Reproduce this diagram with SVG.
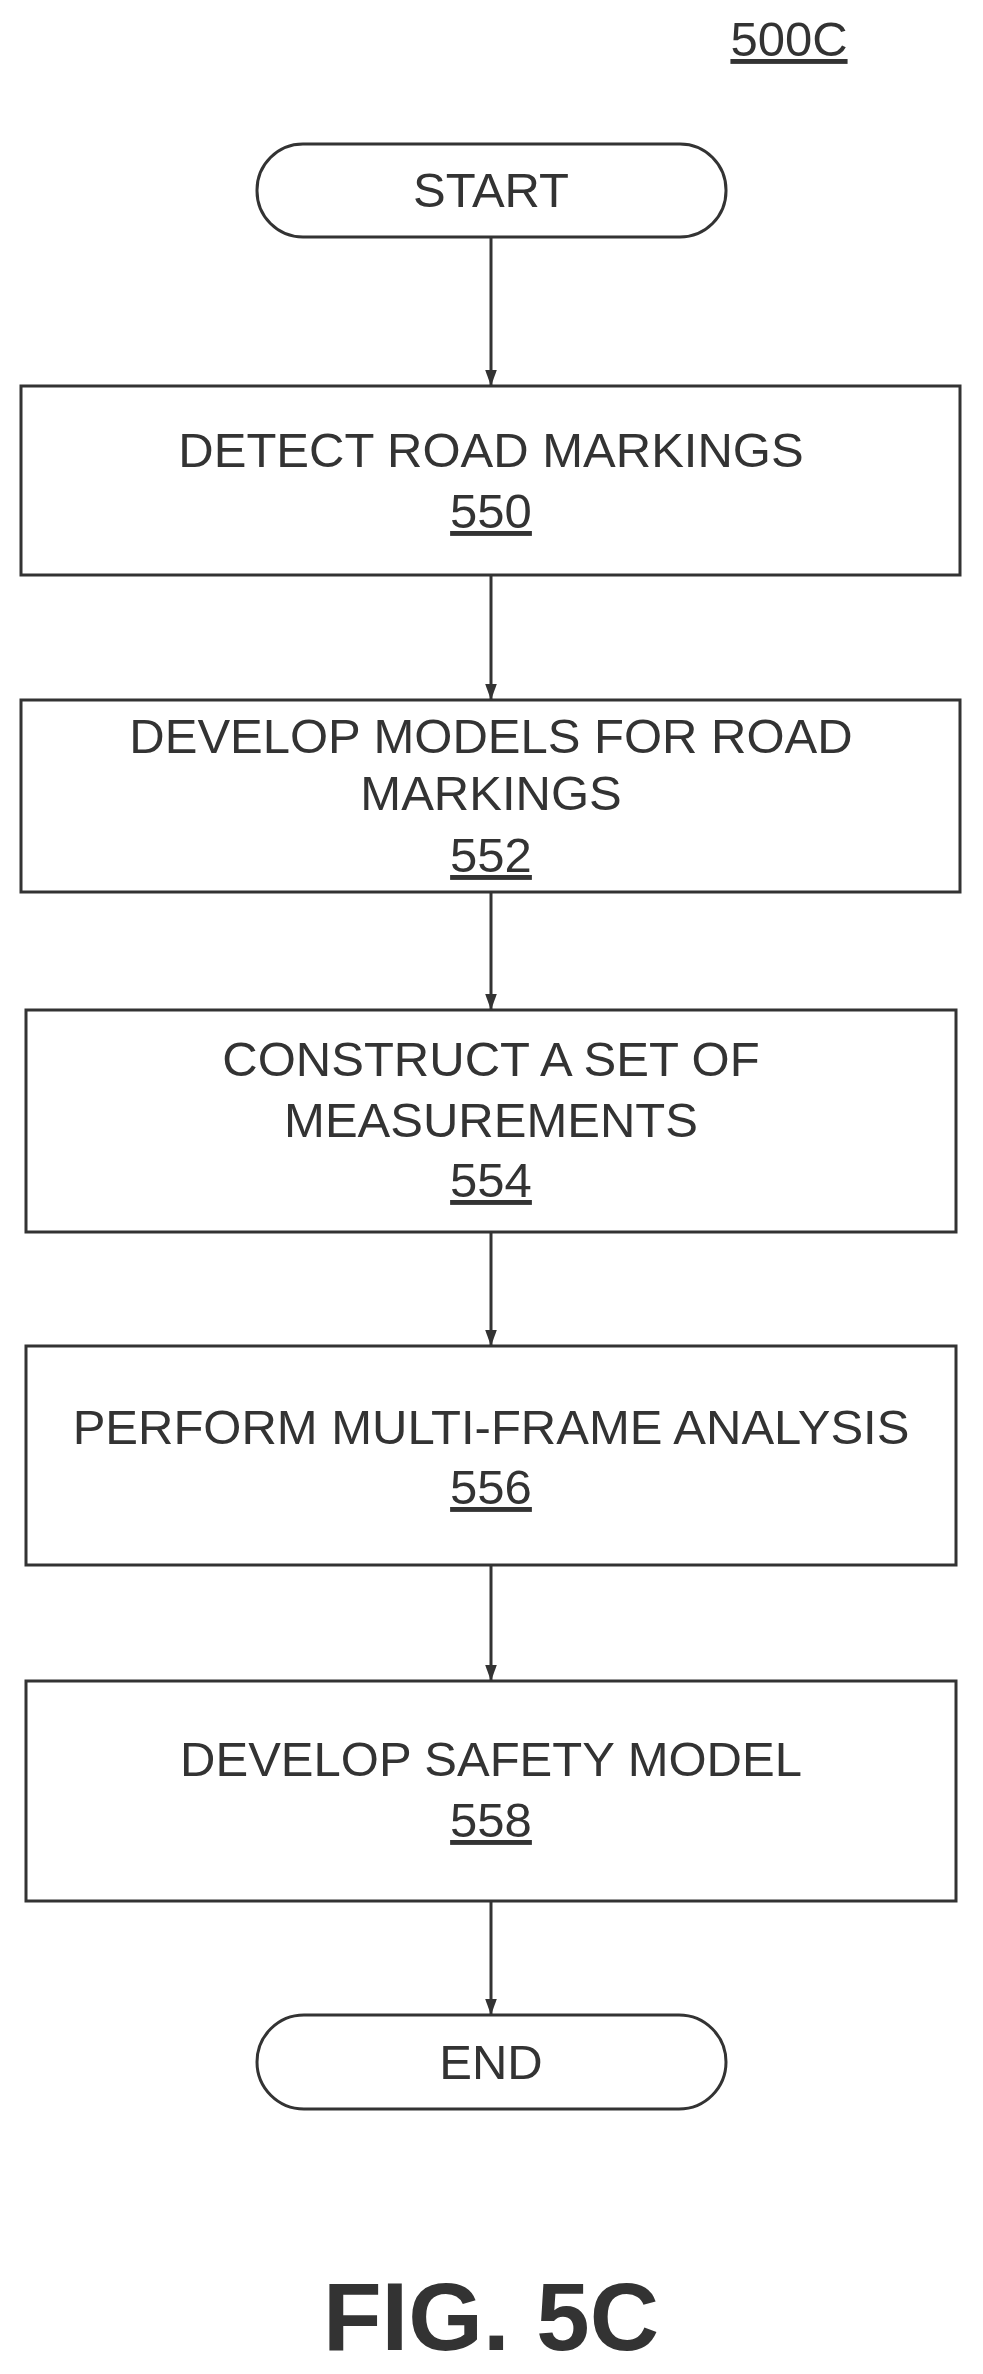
<svg xmlns="http://www.w3.org/2000/svg" width="983" height="2374" viewBox="0 0 983 2374">
<defs>
<marker id="ah" markerWidth="16" markerHeight="22" refX="22" refY="8" orient="auto" markerUnits="userSpaceOnUse" viewBox="0 0 22 16">
<path d="M0,0 L22,8 L0,16 z" fill="#333"/>
</marker>
<style>
.b{fill:#fff;stroke:#333;stroke-width:3}
.t{font-family:"Liberation Sans",Arial,sans-serif;font-size:49px;fill:#333;text-anchor:middle}
.u{text-decoration:underline}
.c{stroke:#333;stroke-width:3;fill:none;marker-end:url(#ah)}
</style>
</defs>
<rect width="983" height="2374" fill="#fff"/>
<text class="t u" x="789" y="56">500C</text>
<g id="start"><rect class="b" x="257" y="144" width="469" height="93" rx="46"/><text class="t" x="491" y="207">START</text></g>
<g id="n550"><rect class="b" x="21" y="386" width="939" height="189"/><text class="t" x="491" y="467">DETECT ROAD MARKINGS</text><text class="t u" x="491" y="528">550</text></g>
<g id="n552"><rect class="b" x="21" y="700" width="939" height="192"/><text class="t" x="491" y="753">DEVELOP MODELS FOR ROAD</text><text class="t" x="491" y="810">MARKINGS</text><text class="t u" x="491" y="872">552</text></g>
<g id="n554"><rect class="b" x="26" y="1010" width="930" height="222"/><text class="t" x="491" y="1076">CONSTRUCT A SET OF</text><text class="t" x="491" y="1137">MEASUREMENTS</text><text class="t u" x="491" y="1197">554</text></g>
<g id="n556"><rect class="b" x="26" y="1346" width="930" height="219"/><text class="t" x="491" y="1444">PERFORM MULTI-FRAME ANALYSIS</text><text class="t u" x="491" y="1504">556</text></g>
<g id="n558"><rect class="b" x="26" y="1681" width="930" height="220"/><text class="t" x="491" y="1776">DEVELOP SAFETY MODEL</text><text class="t u" x="491" y="1837">558</text></g>
<g id="end"><rect class="b" x="257" y="2015" width="469" height="94" rx="47"/><text class="t" x="491" y="2079">END</text></g>
<g id="connectors">
<line class="c" x1="491" y1="237" x2="491" y2="386"/>
<line class="c" x1="491" y1="575" x2="491" y2="700"/>
<line class="c" x1="491" y1="892" x2="491" y2="1010"/>
<line class="c" x1="491" y1="1232" x2="491" y2="1346"/>
<line class="c" x1="491" y1="1565" x2="491" y2="1681"/>
<line class="c" x1="491" y1="1901" x2="491" y2="2015"/>
</g>
<text x="491" y="2350" style="font-family:'Liberation Sans',Arial,sans-serif;font-size:96px;font-weight:bold;fill:#333;text-anchor:middle">FIG. 5C</text>
</svg>
